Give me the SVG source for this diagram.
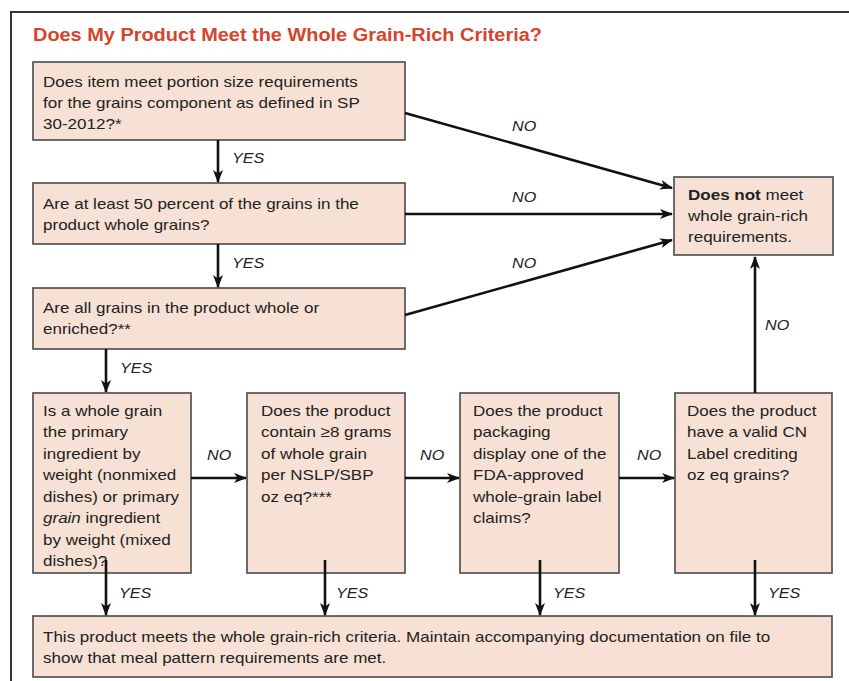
<svg xmlns="http://www.w3.org/2000/svg" width="849" height="681" viewBox="0 0 849 681">
<style>
  .box { fill: #f6e1d4; stroke: #4a4a4a; stroke-width: 1.6; }
  .t { font-family: "Liberation Sans", Arial, sans-serif; font-size: 15.2px; fill: #222; }
  .lab { font-family: "Liberation Sans", Arial, sans-serif; font-size: 14.4px; font-style: italic; fill: #222; }
  .title { font-family: "Liberation Sans", Arial, sans-serif; font-size: 17.8px; font-weight: bold; fill: #d6442d; }
  .ca { stroke: #111; stroke-width: 2.6; fill: none; marker-end: url(#ah); }
</style>
<defs>
  <marker id="ah" viewBox="0 0 13 10" refX="12" refY="5" markerWidth="13" markerHeight="10" orient="auto" markerUnits="userSpaceOnUse">
    <path d="M0,0 L13,5 L0,10 L3.5,5 z" fill="#111"/>
  </marker>
</defs>
<rect width="849" height="681" fill="#ffffff"/>
<path d="M11,681 V12 H849" fill="none" stroke="#333" stroke-width="2"/>
<text class="title" transform="translate(33 41) scale(1.12 1)">Does My Product Meet the Whole Grain-Rich Criteria?</text>

<g id="q1">
  <rect class="box" x="33" y="62" width="372" height="78"/>
  <text class="t" transform="translate(43 87) scale(1.12 1)"><tspan x="0" y="0">Does item meet portion size requirements</tspan><tspan x="0" y="21">for the grains component as defined in SP</tspan><tspan x="0" y="42">30-2012?*</tspan></text>
</g>
<g id="q2">
  <rect class="box" x="33" y="183" width="372" height="61"/>
  <text class="t" transform="translate(43 209) scale(1.12 1)"><tspan x="0" y="0">Are at least 50 percent of the grains in the</tspan><tspan x="0" y="21">product whole grains?</tspan></text>
</g>
<g id="q3">
  <rect class="box" x="33" y="288" width="372" height="61"/>
  <text class="t" transform="translate(43 313) scale(1.12 1)"><tspan x="0" y="0">Are all grains in the product whole or</tspan><tspan x="0" y="21">enriched?**</tspan></text>
</g>
<g id="fail">
  <rect class="box" x="674" y="177" width="159" height="78"/>
  <text class="t" transform="translate(688 200) scale(1.12 1)"><tspan x="0" y="0" font-weight="bold">Does not</tspan><tspan> meet</tspan><tspan x="0" y="21">whole grain-rich</tspan><tspan x="0" y="42">requirements.</tspan></text>
</g>
<g id="q4">
  <rect class="box" x="33" y="393" width="158" height="180"/>
  <text class="t" transform="translate(43 416) scale(1.12 1)"><tspan x="0" y="0">Is a whole grain</tspan><tspan x="0" y="21.5">the primary</tspan><tspan x="0" y="43">ingredient by</tspan><tspan x="0" y="64.5">weight (nonmixed</tspan><tspan x="0" y="86">dishes) or primary</tspan><tspan x="0" y="107.5" font-style="italic">grain</tspan><tspan> ingredient</tspan><tspan x="0" y="129">by weight (mixed</tspan><tspan x="0" y="150.5">dishes)?</tspan></text>
</g>
<g id="q5">
  <rect class="box" x="247" y="393" width="158" height="180"/>
  <text class="t" transform="translate(261 416) scale(1.12 1)"><tspan x="0" y="0">Does the product</tspan><tspan x="0" y="21.5">contain ≥8 grams</tspan><tspan x="0" y="43">of whole grain</tspan><tspan x="0" y="64.5">per NSLP/SBP</tspan><tspan x="0" y="86">oz eq?***</tspan></text>
</g>
<g id="q6">
  <rect class="box" x="460" y="393" width="159" height="180"/>
  <text class="t" transform="translate(473 416) scale(1.12 1)"><tspan x="0" y="0">Does the product</tspan><tspan x="0" y="21.5">packaging</tspan><tspan x="0" y="43">display one of the</tspan><tspan x="0" y="64.5">FDA-approved</tspan><tspan x="0" y="86">whole-grain label</tspan><tspan x="0" y="107.5">claims?</tspan></text>
</g>
<g id="q7">
  <rect class="box" x="675" y="393" width="157" height="180"/>
  <text class="t" transform="translate(687 416) scale(1.12 1)"><tspan x="0" y="0">Does the product</tspan><tspan x="0" y="21.5">have a valid CN</tspan><tspan x="0" y="43">Label crediting</tspan><tspan x="0" y="64.5">oz eq grains?</tspan></text>
</g>
<g id="pass">
  <rect class="box" x="33" y="616" width="799" height="61"/>
  <text class="t" transform="translate(43 642) scale(1.12 1)"><tspan x="0" y="0">This product meets the whole grain-rich criteria. Maintain accompanying documentation on file to</tspan><tspan x="0" y="21">show that meal pattern requirements are met.</tspan></text>
</g>

<g id="connectors">
  <line class="ca" x1="218" y1="140" x2="218" y2="182"/>
  <line class="ca" x1="218" y1="244" x2="218" y2="287"/>
  <line class="ca" x1="106" y1="349" x2="106" y2="392"/>
  <line class="ca" x1="405" y1="113" x2="672" y2="188"/>
  <line class="ca" x1="405" y1="214" x2="672" y2="214"/>
  <line class="ca" x1="405" y1="315" x2="672" y2="240"/>
  <line class="ca" x1="755" y1="393" x2="755" y2="257"/>
  <line class="ca" x1="191" y1="478" x2="246" y2="478"/>
  <line class="ca" x1="405" y1="478" x2="459" y2="478"/>
  <line class="ca" x1="619" y1="478" x2="674" y2="478"/>
  <line class="ca" x1="106" y1="560" x2="106" y2="615"/>
  <line class="ca" x1="325" y1="560" x2="325" y2="615"/>
  <line class="ca" x1="540" y1="560" x2="540" y2="615"/>
  <line class="ca" x1="755" y1="560" x2="755" y2="615"/>
  <text class="lab" transform="translate(232 163) scale(1.12 1)">YES</text>
  <text class="lab" transform="translate(232 268) scale(1.12 1)">YES</text>
  <text class="lab" transform="translate(120 373) scale(1.12 1)">YES</text>
  <text class="lab" transform="translate(512 131) scale(1.12 1)">NO</text>
  <text class="lab" transform="translate(512 202) scale(1.12 1)">NO</text>
  <text class="lab" transform="translate(512 268) scale(1.12 1)">NO</text>
  <text class="lab" transform="translate(765 330) scale(1.12 1)">NO</text>
  <text class="lab" transform="translate(207 460) scale(1.12 1)">NO</text>
  <text class="lab" transform="translate(420 460) scale(1.12 1)">NO</text>
  <text class="lab" transform="translate(637 460) scale(1.12 1)">NO</text>
  <text class="lab" transform="translate(119 598) scale(1.12 1)">YES</text>
  <text class="lab" transform="translate(336 598) scale(1.12 1)">YES</text>
  <text class="lab" transform="translate(553 598) scale(1.12 1)">YES</text>
  <text class="lab" transform="translate(768 598) scale(1.12 1)">YES</text>
</g>
</svg>
